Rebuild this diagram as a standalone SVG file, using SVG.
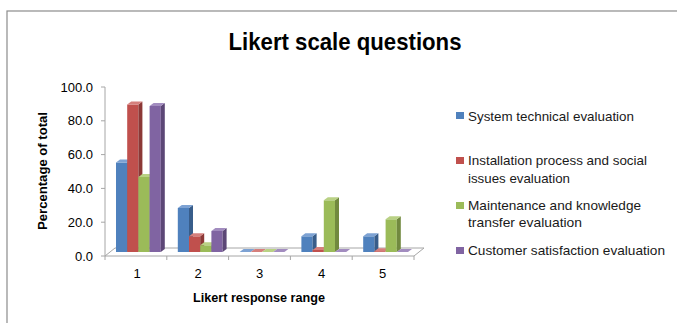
<svg xmlns="http://www.w3.org/2000/svg" width="677" height="323" viewBox="0 0 677 323">
  <style>
    .frame { fill: #ffffff; stroke: #8c8c8c; stroke-width: 1.2; }
    .axis { stroke: #a6a6a6; stroke-width: 1; fill: none; }
    .floor { fill: #ffffff; stroke: #a6a6a6; stroke-width: 1; }
    .title { font-family: "Liberation Sans", Arial, sans-serif; font-weight: bold; font-size: 24px; fill: #000; }
    .atitle { font-family: "Liberation Sans", Arial, sans-serif; font-weight: bold; font-size: 12.5px; fill: #000; }
    .tick { font-family: "Liberation Sans", Arial, sans-serif; font-size: 13px; fill: #000; }
    .leg { font-family: "Liberation Sans", Arial, sans-serif; font-size: 13px; fill: #1a1a1a; }
    .bF { fill: #4f81bd; } .bS { fill: #385d8a; } .bT { fill: #7da2d3; }
    .rF { fill: #c0504d; } .rS { fill: #8c3836; } .rT { fill: #d57f7c; }
    .gF { fill: #9bbb59; } .gS { fill: #71893f; } .gT { fill: #b9d184; }
    .pF { fill: #8064a2; } .pS { fill: #5c4776; } .pT { fill: #a28cbf; }
  </style>

  <!-- chart area frame -->
  <rect class="frame" x="7" y="11" width="700" height="400"/>

  <!-- title -->
  <text class="title" x="345" y="50" text-anchor="middle" textLength="233" lengthAdjust="spacingAndGlyphs">Likert scale questions</text>

  <!-- value axis -->
  <g id="value-axis">
    <line class="axis" x1="105" y1="87" x2="105" y2="256"/>
    <path class="axis" d="M101 87H105M101 120.8H105M101 154.6H105M101 188.4H105M101 222.2H105M101 256H105"/>
    <g class="tick" text-anchor="end">
      <text x="93" y="91.5">100.0</text>
      <text x="93" y="125.3">80.0</text>
      <text x="93" y="159.1">60.0</text>
      <text x="93" y="192.9">40.0</text>
      <text x="93" y="226.7">20.0</text>
      <text x="93" y="260.5">0.0</text>
    </g>
    <text class="atitle" transform="translate(47 171) rotate(-90)" text-anchor="middle" textLength="118" lengthAdjust="spacingAndGlyphs">Percentage of total</text>
  </g>

  <!-- floor and category axis -->
  <g id="category-axis">
    <polygon class="floor" points="105,256 414,256 424,248 115,248"/>
    <path class="axis" d="M105 256V260M166.8 256V260M228.6 256V260M290.4 256V260M352.2 256V260M414 256V260"/>
    <g class="tick" text-anchor="middle">
      <text x="137" y="278">1</text>
      <text x="198" y="278">2</text>
      <text x="259.5" y="278">3</text>
      <text x="321.5" y="278">4</text>
      <text x="382.5" y="278">5</text>
    </g>
    <text class="atitle" x="259" y="302" text-anchor="middle" textLength="132" lengthAdjust="spacingAndGlyphs">Likert response range</text>
  </g>

  <!-- columns: front face, side face, top face; base at y=252, depth (4,-3) -->
  <g id="series-system">
    <!-- 1: h 89.5 -->
    <rect class="bF" x="116" y="162.5" width="11.2" height="89.5"/>
    <polygon class="bS" points="127.2,162.5 131.2,159.5 131.2,249 127.2,252"/>
    <polygon class="bT" points="116,162.5 127.2,162.5 131.2,159.5 120,159.5"/>
    <!-- 2: h 44 -->
    <rect class="bF" x="177.8" y="208" width="11.2" height="44"/>
    <polygon class="bS" points="189,208 193,205 193,249 189,252"/>
    <polygon class="bT" points="177.8,208 189,208 193,205 181.8,205"/>
    <!-- 3: zero -->
    <polygon class="bT" points="239.6,252 250.8,252 254.8,249 243.6,249"/>
    <!-- 4: h 15.7 -->
    <rect class="bF" x="301.4" y="236.3" width="11.2" height="15.7"/>
    <polygon class="bS" points="312.6,236.3 316.6,233.3 316.6,249 312.6,252"/>
    <polygon class="bT" points="301.4,236.3 312.6,236.3 316.6,233.3 305.4,233.3"/>
    <!-- 5: h 15.7 -->
    <rect class="bF" x="363.2" y="236.3" width="11.2" height="15.7"/>
    <polygon class="bS" points="374.4,236.3 378.4,233.3 378.4,249 374.4,252"/>
    <polygon class="bT" points="363.2,236.3 374.4,236.3 378.4,233.3 367.2,233.3"/>
  </g>

  <g id="series-installation">
    <!-- 1: h 147.5 -->
    <rect class="rF" x="127.2" y="104.5" width="11.2" height="147.5"/>
    <polygon class="rS" points="138.4,104.5 142.4,101.5 142.4,249 138.4,252"/>
    <polygon class="rT" points="127.2,104.5 138.4,104.5 142.4,101.5 131.2,101.5"/>
    <!-- 2: h 15.7 -->
    <rect class="rF" x="189" y="236.3" width="11.2" height="15.7"/>
    <polygon class="rS" points="200.2,236.3 204.2,233.3 204.2,249 200.2,252"/>
    <polygon class="rT" points="189,236.3 200.2,236.3 204.2,233.3 193,233.3"/>
    <!-- 3: zero -->
    <polygon class="rT" points="250.8,252 262,252 266,249 254.8,249"/>
    <!-- 4: h 2 -->
    <rect class="rF" x="312.6" y="250" width="11.2" height="2"/>
    <polygon class="rS" points="323.8,250 327.8,247 327.8,249 323.8,252"/>
    <polygon class="rT" points="312.6,250 323.8,250 327.8,247 316.6,247"/>
    <!-- 5: h 0.8 -->
    <rect class="rF" x="374.4" y="251.2" width="11.2" height="0.8"/>
    <polygon class="rT" points="374.4,251.2 385.6,251.2 389.6,248.2 378.4,248.2"/>
  </g>

  <g id="series-maintenance">
    <!-- 1: h 75 -->
    <rect class="gF" x="138.4" y="177" width="11.2" height="75"/>
    <polygon class="gS" points="149.6,177 153.6,174 153.6,249 149.6,252"/>
    <polygon class="gT" points="138.4,177 149.6,177 153.6,174 142.4,174"/>
    <!-- 2: h 6.7 -->
    <rect class="gF" x="200.2" y="245.3" width="11.2" height="6.7"/>
    <polygon class="gS" points="211.4,245.3 215.4,242.3 215.4,249 211.4,252"/>
    <polygon class="gT" points="200.2,245.3 211.4,245.3 215.4,242.3 204.2,242.3"/>
    <!-- 3: zero -->
    <polygon class="gT" points="262,252 273.2,252 277.2,249 266,249"/>
    <!-- 4: h 51.7 -->
    <rect class="gF" x="323.8" y="200.3" width="11.2" height="51.7"/>
    <polygon class="gS" points="335,200.3 339,197.3 339,249 335,252"/>
    <polygon class="gT" points="323.8,200.3 335,200.3 339,197.3 327.8,197.3"/>
    <!-- 5: h 32.7 -->
    <rect class="gF" x="385.6" y="219.3" width="11.2" height="32.7"/>
    <polygon class="gS" points="396.8,219.3 400.8,216.3 400.8,249 396.8,252"/>
    <polygon class="gT" points="385.6,219.3 396.8,219.3 400.8,216.3 389.6,216.3"/>
  </g>

  <g id="series-customer">
    <!-- 1: h 146 -->
    <rect class="pF" x="149.6" y="106" width="11.2" height="146"/>
    <polygon class="pS" points="160.8,106 164.8,103 164.8,249 160.8,252"/>
    <polygon class="pT" points="149.6,106 160.8,106 164.8,103 153.6,103"/>
    <!-- 2: h 21 -->
    <rect class="pF" x="211.4" y="231" width="11.2" height="21"/>
    <polygon class="pS" points="222.6,231 226.6,228 226.6,249 222.6,252"/>
    <polygon class="pT" points="211.4,231 222.6,231 226.6,228 215.4,228"/>
    <!-- 3, 4, 5: zero -->
    <polygon class="pT" points="273.2,252 284.4,252 288.4,249 277.2,249"/>
    <polygon class="pT" points="335,252 346.2,252 350.2,249 339,249"/>
    <polygon class="pT" points="396.8,252 408,252 412,249 400.8,249"/>
  </g>

  <!-- legend -->
  <g id="legend">
    <g id="legend-system">
      <rect class="bF" x="456" y="112" width="8" height="7"/>
      <text class="leg" x="468" y="120.5" textLength="166" lengthAdjust="spacingAndGlyphs">System technical evaluation</text>
    </g>
    <g id="legend-installation">
      <rect class="rF" x="456" y="157" width="8" height="7"/>
      <text class="leg" x="468" y="165.2" textLength="179" lengthAdjust="spacingAndGlyphs">Installation process and social</text>
      <text class="leg" x="468" y="182.5" textLength="102" lengthAdjust="spacingAndGlyphs">issues evaluation</text>
    </g>
    <g id="legend-maintenance">
      <rect class="gF" x="456" y="202" width="8" height="7"/>
      <text class="leg" x="468" y="210.2" textLength="173" lengthAdjust="spacingAndGlyphs">Maintenance and knowledge</text>
      <text class="leg" x="468" y="227.2" textLength="114" lengthAdjust="spacingAndGlyphs">transfer evaluation</text>
    </g>
    <g id="legend-customer">
      <rect class="pF" x="456" y="247" width="8" height="7"/>
      <text class="leg" x="468" y="255.2" textLength="197" lengthAdjust="spacingAndGlyphs">Customer satisfaction evaluation</text>
    </g>
  </g>
</svg>
